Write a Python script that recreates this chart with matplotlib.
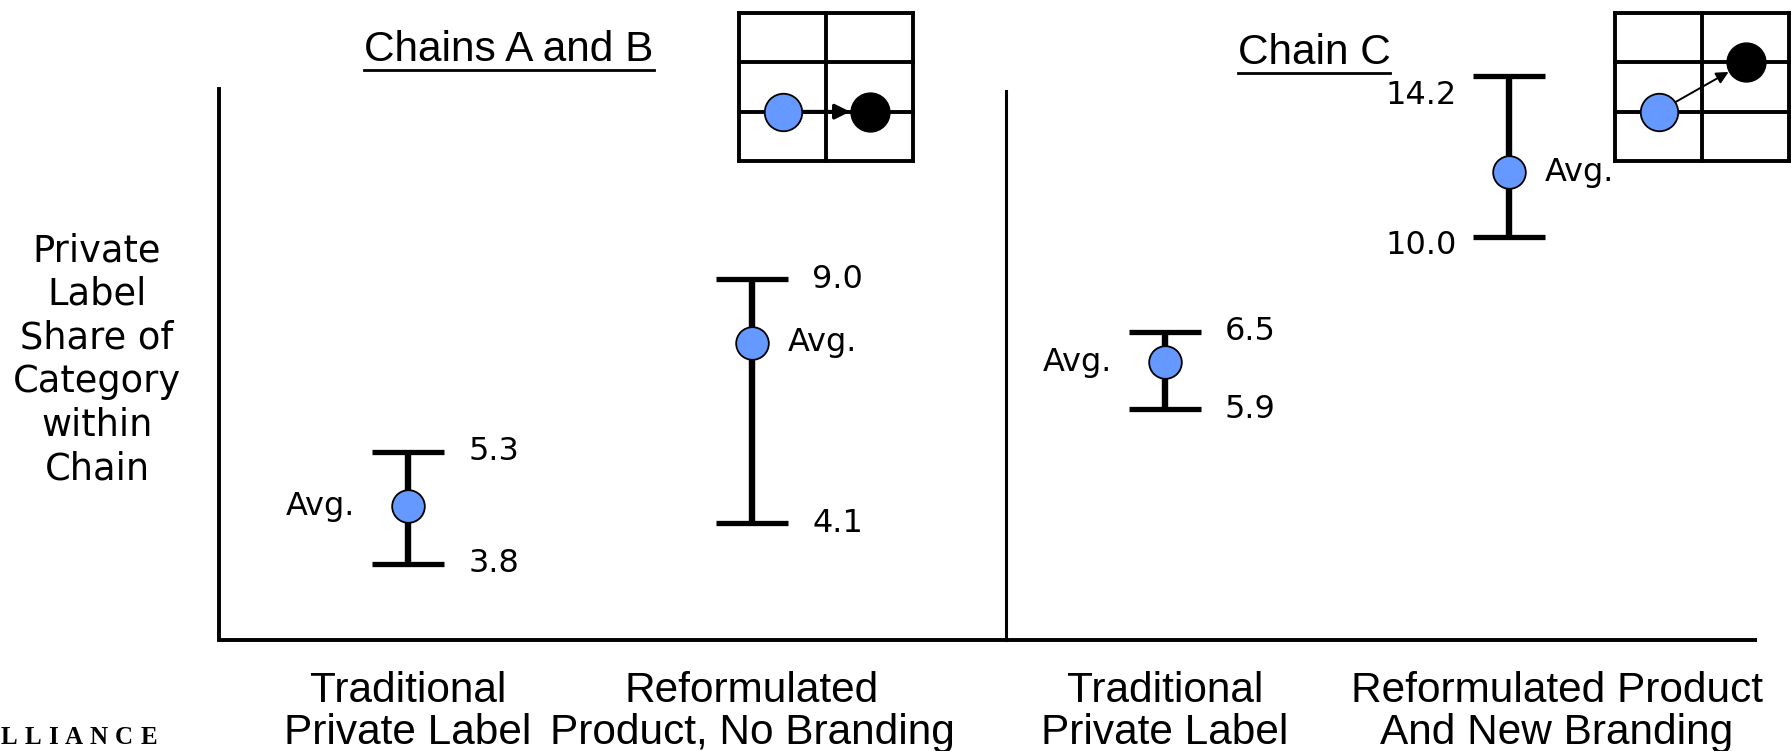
import matplotlib
matplotlib.use("Agg")
import matplotlib.pyplot as plt
from matplotlib.lines import Line2D

# bottom categories, one error bar each
categories = [
    "Traditional\nPrivate Label",
    "Reformulated\nProduct, No Branding",
    "Traditional\nPrivate Label",
    "Reformulated Product\nAnd New Branding",
]
panel_titles = ["Chains A and B", "Chain C"]
y_label = "Private\nLabel\nShare of\nCategory\nwithin\nChain"

# printed ends of each range (private label share, %)
range_low = [3.8, 4.1, 5.9, 10.0]
range_high = [5.3, 9.0, 6.5, 14.2]

# the chart is drawn schematically, not to scale:
# heights of the marks (arbitrary units)
drawn_low = [7.6, 11.7, 23.1, 40.3]
drawn_high = [18.8, 36.1, 30.8, 56.4]
drawn_avg = [13.4, 29.7, 27.8, 46.8]

# ---- layout ----
W, H = 1791, 751
BLUE = "#6699FF"
x_pos = [1, 2, 3.2, 4.2]
label_x = [1, 2, 3.2, 4.34]
value_side = [1, 1, 1, -1]
high_dy = [0, 0, 0, -1.9]
low_dy = [0, 0, 0, -0.9]
avg_side = [-1, 1, -1, 1]
num_font = dict(family="DejaVu Sans", fontsize=23)
cat_font = dict(family="Liberation Sans", fontsize=30.5)

fig = plt.figure(figsize=(W / 100, H / 100), dpi=100)
fig.patch.set_facecolor("white")

x_left, x_right = 1 - (408 - 219) / 344, 1 + (1757 - 408) / 344
x_div = 1 + (1006 - 408) / 344
ax = fig.add_axes([219 / W, 111 / H, 1538 / W, 640 / H])
ax.set_xlim(x_left, x_right)
ax.set_ylim(0, 64)
ax.axis("off")

# frame lines
ax.plot([x_left, x_left], [0, 55.1], color="black", lw=2.8, clip_on=False)
ax.plot([x_div, x_div], [0, 54.9], color="black", lw=2.2, clip_on=False)
ax.plot([x_left, x_right], [0, 0], color="black", lw=2.8, clip_on=False,
        solid_capstyle="butt")

cap = 0.105
for i, x in enumerate(x_pos):
    ax.vlines(x, drawn_low[i], drawn_high[i], color="black", lw=4.6, zorder=2)
    ax.hlines([drawn_low[i], drawn_high[i]], x - cap, x + cap, color="black",
              lw=3.8, zorder=2)
    ax.plot(x, drawn_avg[i], "o", ms=23.5, mfc=BLUE, mec="black", mew=1.3, zorder=3)

    s = value_side[i]
    ha = "left" if s > 0 else "right"
    dx = 0.175 if s > 0 else 0.15
    ax.text(x + s * dx, drawn_high[i] + high_dy[i], f"{range_high[i]:.1f}",
            ha=ha, va="center", **num_font)
    ax.text(x + s * dx, drawn_low[i] + low_dy[i], f"{range_low[i]:.1f}",
            ha=ha, va="center", **num_font)

    if avg_side[i] > 0:
        ax.text(x + 0.105, drawn_avg[i], "Avg.", ha="left", va="center", **num_font)
    else:
        ax.text(x - 0.153, drawn_avg[i], "Avg.", ha="right", va="center", **num_font)

    ax.text(label_x[i], -3.1, categories[i], ha="center", va="top",
            multialignment="center", linespacing=1.05, **cat_font)

fig.text(97 / W, 1 - 360 / H, y_label, ha="center", va="center",
         multialignment="center", family="DejaVu Sans", fontsize=26.5, linespacing=1.23)

# panel titles, underlined
titles = [
    fig.text(509 / W, 1 - 61 / H, panel_titles[0], ha="center", va="baseline", **cat_font),
    fig.text(1314 / W, 1 - 64 / H, panel_titles[1], ha="center", va="baseline", **cat_font),
]

# little grid icons
def grid_icon(left, end, thick):
    ia = fig.add_axes([left / W, 1 - 161 / H, 174 / W, 148 / H])
    ia.set_xlim(0, 2)
    ia.set_ylim(0, 3)
    ia.axis("off")
    for gx in (0, 1, 2):
        ia.plot([gx, gx], [0, 3], color="black", lw=2.8, clip_on=False)
    for gy in (0, 1, 2, 3):
        ia.plot([0, 2], [gy, gy], color="black", lw=2.8, clip_on=False,
                solid_capstyle="projecting")
    ia.annotate("", xy=end, xytext=(0.5, 1),
                arrowprops=dict(arrowstyle="-|>", color="black",
                                lw=2.6 if thick else 1.4, shrinkA=14, shrinkB=14,
                                mutation_scale=22 if thick else 18))
    ia.plot(0.5, 1, "o", ms=27, mfc=BLUE, mec="black", mew=1.3, zorder=5)
    ia.plot(*end, "o", ms=28, mfc="black", mec="black", zorder=5)

grid_icon(739, (1.5, 1), True)
grid_icon(1615, (1.5, 2), False)

fig.canvas.draw()
r = fig.canvas.get_renderer()
for t in titles:
    bb = t.get_window_extent(r)
    yy = bb.y0 + 0.5
    fig.add_artist(Line2D([bb.x0 / W, bb.x1 / W], [yy / H, yy / H], color="black",
                          lw=2, transform=fig.transFigure))

# company logo at the bottom-left corner, letter-spaced
xc = 1.0
for ch in "LLIANCE":
    t = fig.text(xc / W, 1 - 744 / H, ch, ha="left", va="baseline",
                 family="Liberation Serif", fontsize=18, fontweight="bold")
    xc += t.get_window_extent(r).width + 7

fig.savefig("out.png", dpi=100, facecolor="white")
